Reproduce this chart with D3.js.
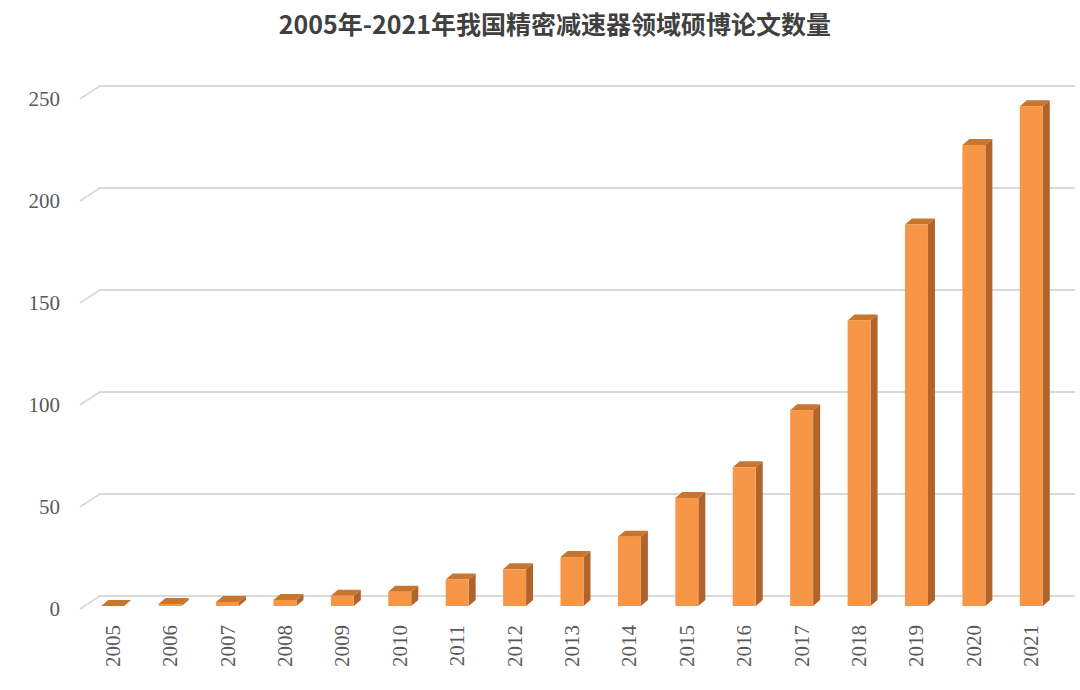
<!DOCTYPE html>
<html><head><meta charset="utf-8">
<script src="https://cdn.jsdelivr.net/npm/d3@7"></script>
<style>body{margin:0;background:#fff}</style>
</head><body>
<svg id="chart" width="1080" height="690"></svg>
<script>
var years = ["2005","2006","2007","2008","2009","2010","2011","2012","2013","2014","2015","2016","2017","2018","2019","2020","2021"];
var counts = [0,1,2,3,5,7,13,18,24,34,53,68,96,140,187,226,245];
var yTicks = [0,50,100,150,200,250];

var svg = d3.select("#chart");
var dx = 20, dy = 13;          // depth of the back wall
var bdx = 7, bdy = 6;          // depth of each bar

var x = d3.scaleBand().domain(years).range([84, 1060]).paddingInner(0.6).paddingOuter(0.3);
var y = d3.scaleLinear().domain([0, 250]).range([609, 99]);

svg.append("text").attr("x", 555).attr("y", 34).attr("text-anchor", "middle")
	.style("font-family", "Noto Sans CJK SC").style("font-weight", "bold")
	.style("font-size", "25px").style("fill", "#404040")
	.text("2005年-2021年我国精密减速器领域硕博论文数量");

// gridlines on the back wall, with a diagonal for the floor perspective
var grid = svg.append("g").attr("stroke", "#d9d9d9").attr("stroke-width", 2).attr("fill", "none");
yTicks.forEach(function(t) {
	grid.append("path").attr("d", "M80," + y(t) + "L" + (80 + dx) + "," + (y(t) - dy) + "H1075");
});

svg.append("g").selectAll("text").data(yTicks).enter().append("text")
	.attr("x", 60).attr("y", function(d) { return y(d) + 7; })
	.attr("text-anchor", "end")
	.style("font-family", "Liberation Serif").style("font-size", "21px").style("fill", "#595959")
	.text(function(d) { return d; });

svg.append("g").selectAll("text").data(years).enter().append("text")
	.attr("transform", function(d) { return "translate(" + (x(d) + x.bandwidth() / 2 + 7) + ",625) rotate(-90)"; })
	.attr("text-anchor", "end")
	.style("font-family", "Liberation Serif").style("font-size", "21px").style("fill", "#595959")
	.text(function(d) { return d; });

var base = y(0) - 3;
var bars = svg.append("g").selectAll("g").data(years).enter().append("g");
bars.each(function(d, i) {
	var g = d3.select(this);
	var x0 = x(d), w = x.bandwidth();
	var top = base - (y(0) - y(counts[i]));
	g.append("path").attr("fill", "#b0642c")
		.attr("d", "M" + (x0 + w) + "," + top + "l" + bdx + "," + (-bdy) + "V" + (base - bdy) + "l" + (-bdx) + "," + bdy + "Z");
	g.append("path").attr("fill", "#c8752f")
		.attr("d", "M" + x0 + "," + top + "l" + bdx + "," + (-bdy) + "h" + w + "l" + (-bdx) + "," + bdy + "Z");
	g.append("rect").attr("fill", "#f79646")
		.attr("x", x0).attr("y", top).attr("width", w).attr("height", base - top);
});
</script>
</body></html>
